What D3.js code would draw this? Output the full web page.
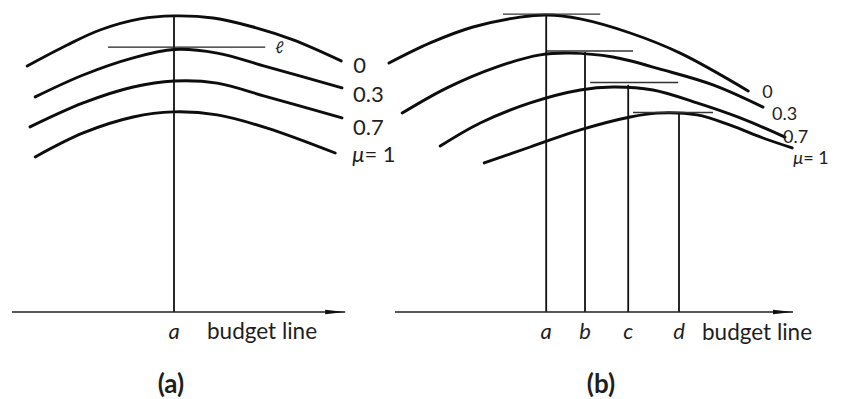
<!DOCTYPE html>
<html lang="en">
<head>
  <meta charset="UTF-8">
  <title>Budget line and utility curves</title>
  <script src="https://d3js.org/d3.v7.min.js"></script>
  <style>
    body { margin: 0; background: #fff; }
    text { font-family: Lato, "Liberation Sans", sans-serif; fill: #1e1e1e; }
  </style>
</head>
<body>
  <svg width="855" height="399"></svg>

  <script>
    // curve labels (one per value of mu)
    var muLabels = ["0", "0.3", "0.7", "= 1"];

    // panel (a): utility curves, [budget, utility]
    var curvesA = [
      [[3.8,82],[13.8,89],[22,94],[32,97.7],[40.5,98.7],[50.3,98],[60.3,95],[70.3,90.7],[82.3,83.7]],
      [[5.8,71.7],[17.8,79],[30.3,84.7],[40.5,87.5],[51.3,86.3],[63.8,81.7],[82.5,74.7]],
      [[4.5,61.7],[17.8,69.7],[30.3,75],[40.5,77],[51.3,76.3],[63.8,71.7],[82.5,64.7]],
      [[5.8,51.7],[17.8,59.7],[30.3,65],[40.3,66.7],[51.3,65.7],[63.8,61.3],[80.8,53]]
    ];
    var optimumA = 40.5;         // common optimum a
    var optimumTopA = 98.7;
    var tangentA = [24, 63.3, 88.3];  // x0, x1, level of line l
    var axisA = [0, 83.3];

    // panel (b)
    var curvesB = [
      [[-1,83],[9.3,89.7],[20,95],[31.8,98.3],[38.5,99],[46.8,97.7],[59.3,93],[71.8,86.3],[88.8,73.7]],
      [[2.3,66.3],[13.5,74.7],[26,81.7],[36.8,85.7],[44.3,86.3],[55,85],[67.5,80.7],[80,75.7],[92.5,68.3]],
      [[11.8,55.3],[21.8,63],[34.3,69.7],[46.8,74],[55,75],[65,74],[76,69.7],[86.8,64.7],[98,58.3]],
      [[22.8,49.7],[34.3,55],[46.8,60.7],[59.3,65],[66,66.3],[76,65.7],[84.3,62.3],[92.5,58],[99.8,54.7]]
    ];
    var optimaB = [38.3, 48, 58.8, 71.5];
    var optimaTopB = [99, 86.7, 75.7, 66.3];
    var optimaNames = ["a", "b", "c", "d"];
    var tangentsB = [[27.5,51.8,99.3],[38.5,60,87],[49.3,71.3,76.5],[60,80,66.5]];
    var axisB = [0.5, 100];

    var svg = d3.select("svg");

    // arrow marker for the budget axis
    svg.append("defs").append("marker")
        .attr("id", "arrow")
        .attr("viewBox", "0 0 20 6")
        .attr("refX", 20).attr("refY", 3)
        .attr("markerWidth", 20).attr("markerHeight", 6)
        .attr("markerUnits", "userSpaceOnUse")
        .attr("orient", "auto")
      .append("path")
        .attr("d", "M0,0.8L20,3L0,5.2Z")
        .attr("fill", "#111");

    var y = d3.scaleLinear().domain([0, 100]).range([312, 12]);
    var xA = d3.scaleLinear().domain([0, 100]).range([12, 412]);
    var xB = d3.scaleLinear().domain([0, 100]).range([393, 793]);

    function curveLine(x) {
      return d3.line()
          .x(function(d) { return x(d[0]); })
          .y(function(d) { return y(d[1]); })
          .curve(d3.curveCatmullRom.alpha(0.5));
    }

    function drawCurves(g, curves, x) {
      g.selectAll("path.curve")
          .data(curves)
          .enter().append("path")
          .attr("class", "curve")
          .attr("d", curveLine(x))
          .attr("fill", "none")
          .attr("stroke", "#0d0d0d")
          .attr("stroke-width", 2.9)
          .attr("stroke-linecap", "round");
    }

    function drawAxis(g, x, ends) {
      g.append("line")
          .attr("x1", x(ends[0])).attr("x2", x(ends[1]))
          .attr("y1", y(0)).attr("y2", y(0))
          .attr("stroke", "#222")
          .attr("stroke-width", 1.7)
          .attr("marker-end", "url(#arrow)");
    }

    function muLabel(g, curves, x, offsets, size) {
      g.selectAll("text.mu")
          .data(curves)
          .enter().append("text")
          .attr("class", "mu")
          .attr("x", function(d, i) { return x(d[d.length - 1][0]) + offsets[i][0]; })
          .attr("y", function(d, i) { return y(d[d.length - 1][1]) + offsets[i][1]; })
          .style("font-size", size + "px")
          .each(function(d, i) {
            var t = d3.select(this);
            if (i === 3) t.append("tspan").style("font-style", "italic").text("\u03bc");
            t.append("tspan").text(muLabels[i]);
          });
    }

    // ---------- panel (a) ----------
    var ga = svg.append("g");
    drawCurves(ga, curvesA, xA);

    ga.append("line")
        .attr("x1", xA(optimumA)).attr("x2", xA(optimumA))
        .attr("y1", y(optimumTopA)).attr("y2", y(0))
        .attr("stroke", "#111").attr("stroke-width", 1.8);

    ga.append("line")
        .attr("x1", xA(tangentA[0])).attr("x2", xA(tangentA[1]))
        .attr("y1", y(tangentA[2])).attr("y2", y(tangentA[2]))
        .attr("stroke", "#222").attr("stroke-width", 1.4);

    ga.append("text")
        .attr("x", xA(tangentA[1]) + 10)
        .attr("y", y(tangentA[2]) + 6)
        .style("font-size", "16px")
        .style("font-style", "italic")
        .text("\u2113");

    drawAxis(ga, xA, axisA);
    muLabel(ga, curvesA, xA, [[12, 12], [11, 14], [11, 17], [17, 9]], 22);

    ga.append("text")
        .attr("x", xA(optimumA)).attr("y", 339)
        .attr("text-anchor", "middle")
        .style("font-size", "22px").style("font-style", "italic")
        .text("a");
    ga.append("text")
        .attr("x", 207).attr("y", 339)
        .style("font-size", "22.5px")
        .text("budget line");
    ga.append("text")
        .attr("x", 171).attr("y", 393)
        .attr("text-anchor", "middle")
        .style("font-size", "26px").style("font-weight", "bold")
        .text("(a)");

    // ---------- panel (b) ----------
    var gb = svg.append("g");
    drawCurves(gb, curvesB, xB);

    gb.selectAll("line.opt")
        .data(optimaB)
        .enter().append("line")
        .attr("class", "opt")
        .attr("x1", function(d) { return xB(d); })
        .attr("x2", function(d) { return xB(d); })
        .attr("y1", function(d, i) { return y(optimaTopB[i]); })
        .attr("y2", y(0))
        .attr("stroke", "#111").attr("stroke-width", 1.8);

    gb.selectAll("line.tan")
        .data(tangentsB)
        .enter().append("line")
        .attr("class", "tan")
        .attr("x1", function(d) { return xB(d[0]); })
        .attr("x2", function(d) { return xB(d[1]); })
        .attr("y1", function(d) { return y(d[2]); })
        .attr("y2", function(d) { return y(d[2]); })
        .attr("stroke", "#333").attr("stroke-width", 1.4);

    drawAxis(gb, xB, axisB);
    muLabel(gb, curvesB, xB, [[14, 7.5], [9, 13], [-2, 5.5], [1, 16]], 18);

    gb.selectAll("text.opt")
        .data(optimaB)
        .enter().append("text")
        .attr("class", "opt")
        .attr("x", function(d) { return xB(d); })
        .attr("y", 339)
        .attr("text-anchor", "middle")
        .style("font-size", "22px").style("font-style", "italic")
        .text(function(d, i) { return optimaNames[i]; });
    gb.append("text")
        .attr("x", 702).attr("y", 340)
        .style("font-size", "22.5px")
        .text("budget line");
    gb.append("text")
        .attr("x", 601).attr("y", 393)
        .attr("text-anchor", "middle")
        .style("font-size", "26px").style("font-weight", "bold")
        .text("(b)");
  </script>
</body>
</html>
